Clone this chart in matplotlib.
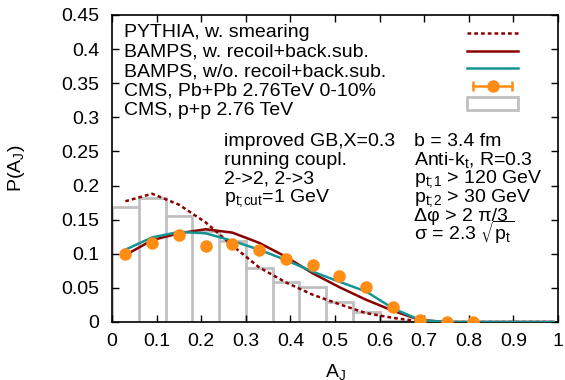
import numpy as np
import matplotlib
matplotlib.use('Agg')
import matplotlib.pyplot as plt
from matplotlib.lines import Line2D
from matplotlib.patches import Patch
from matplotlib.legend_handler import HandlerLine2D, HandlerTuple

# A_J bins of width 0.06
bin_edges = np.round(np.arange(0, 0.72 + 1e-9, 0.06), 2)
aj = np.round(np.arange(0.03, 1.0, 0.06), 2)          # bin centres 0.03 ... 0.99

cms_pp = [0.168, 0.182, 0.155, 0.134, 0.119, 0.079, 0.058, 0.051, 0.029, 0.015, 0.002, 0.0]
cms_pbpb = [0.100, 0.116, 0.127, 0.111, 0.114, 0.105, 0.093, 0.0835, 0.0675, 0.052, 0.022, 0.0025, 0.0, 0.0]

pythia = [0.177, 0.188, 0.172, 0.146, 0.112, 0.080, 0.058, 0.040, 0.026, 0.013, 0.006, 0.001,
          0, 0, 0, 0, 0]
bamps_recoil = [0.098, 0.120, 0.130, 0.136, 0.131, 0.116, 0.0956, 0.0714, 0.051, 0.0325, 0.0165, 0.003,
                0, 0, 0, 0, 0]
bamps_norecoil = [0.106, 0.124, 0.132, 0.130, 0.119, 0.106, 0.0908, 0.0738, 0.059, 0.0446, 0.020, 0.003,
                  0, 0, 0, 0, 0]

legend_labels = ['PYTHIA, w. smearing', 'BAMPS, w. recoil+back.sub.', 'BAMPS, w/o. recoil+back.sub.',
                 'CMS, Pb+Pb 2.76TeV 0-10%', 'CMS, p+p 2.76 TeV']
left_text = ['improved GB,X=0.3', 'running coupl.', '2->2, 2->3', r'$p_{t;\!cut}$=1 GeV']
right_text = ['b = 3.4 fm', r'Anti-$k_t$, R=0.3', r'$p_{t;\!1}$ > 120 GeV', r'$p_{t;\!2}$ > 30 GeV',
              r'Δφ > 2 π/3', r'σ = 2.3 $\sqrt{p_t}$']

plt.rcParams['font.family'] = ['Liberation Sans', 'DejaVu Sans']
plt.rcParams['mathtext.default'] = 'regular'
plt.rcParams['font.size'] = 14

dark_red = '#8b0000'
teal = '#169494'
orange = '#ff8c14'
grey = '#c0c0c0'

fig = plt.figure(figsize=(5.65, 3.8), dpi=100)
ax = fig.add_axes([112 / 565, 58 / 380, 446 / 565, 307 / 380])

# p+p histogram (open bars)
ax.stairs(cms_pp, bin_edges, color=grey, linewidth=2, zorder=1)
ax.vlines(bin_edges[1:-1], 0, np.minimum(cms_pp[:-1], cms_pp[1:]), color=grey, linewidth=2, zorder=1)

ax.plot(aj, pythia, color=dark_red, linestyle=(0, (1.5, 1.2)), linewidth=1.8, zorder=3)
ax.plot(aj, bamps_recoil, color=dark_red, linewidth=1.8, zorder=3)
ax.plot(aj, bamps_norecoil, color=teal, linewidth=1.8, zorder=3)
ax.plot(aj[:len(cms_pbpb)], cms_pbpb, 'o', color=orange, markersize=8, zorder=4)

ax.set_xlim(0, 1)
ax.set_ylim(0, 0.45)
ax.set_xticks(np.arange(0, 1.01, 0.1))
ax.set_xticklabels(['0', '0.1', '0.2', '0.3', '0.4', '0.5', '0.6', '0.7', '0.8', '0.9', '1'])
ax.set_yticks(np.arange(0, 0.451, 0.05))
ax.set_yticklabels(['0', '0.05', '0.1', '0.15', '0.2', '0.25', '0.3', '0.35', '0.4', '0.45'])
ax.tick_params(direction='in', length=5, width=1, top=True, right=True)
ax.tick_params(axis='x', pad=8)
ax.tick_params(axis='y', pad=9)
for s in ax.spines.values():
    s.set_linewidth(1.2)

ax.set_xlabel('A$_J$')
ax.xaxis.set_label_coords(0.5, -0.13)
ax.set_ylabel('P(A$_J$)')
ax.yaxis.set_label_coords(-0.19, 0.5)

# annotation blocks
for i, t in enumerate(left_text):
    ax.text(0.251, 0.2585 - i * 0.0277, t, va='baseline', ha='left')
for i, t in enumerate(right_text):
    ax.text(0.678, 0.2585 - i * 0.0277, t, va='baseline', ha='left')

# legend, gnuplot style: text on the left, samples on the right
for i, t in enumerate(legend_labels):
    ax.text(0.027, 0.927 - i * 0.0632, t, va='baseline', ha='left', transform=ax.transAxes)

h_pythia = Line2D([], [], color=dark_red, linestyle=(0, (1.5, 1.2)), linewidth=1.8)
h_rec = Line2D([], [], color=dark_red, linewidth=1.8)
h_norec = Line2D([], [], color=teal, linewidth=1.8)
h_bar = Line2D([], [], color=orange, linewidth=1.8, marker='|', markersize=7, markeredgewidth=1.8)
h_dot = Line2D([], [], color=orange, linestyle='none', marker='o', markersize=8)
h_pp = Patch(facecolor='white', edgecolor=grey, linewidth=2)
ax.legend([h_pythia, h_rec, h_norec, (h_bar, h_dot), h_pp], [''] * 5,
          handler_map={h_bar: HandlerLine2D(numpoints=2), h_dot: HandlerLine2D(numpoints=1),
                       tuple: HandlerTuple(ndivide=1, pad=0)},
          loc='upper left', bbox_to_anchor=(0.796, 0.963), frameon=False,
          handlelength=2.63, handletextpad=0, labelspacing=0.02, borderpad=0, borderaxespad=0,
          handleheight=0.65)

fig.savefig('out.png', dpi=100)
